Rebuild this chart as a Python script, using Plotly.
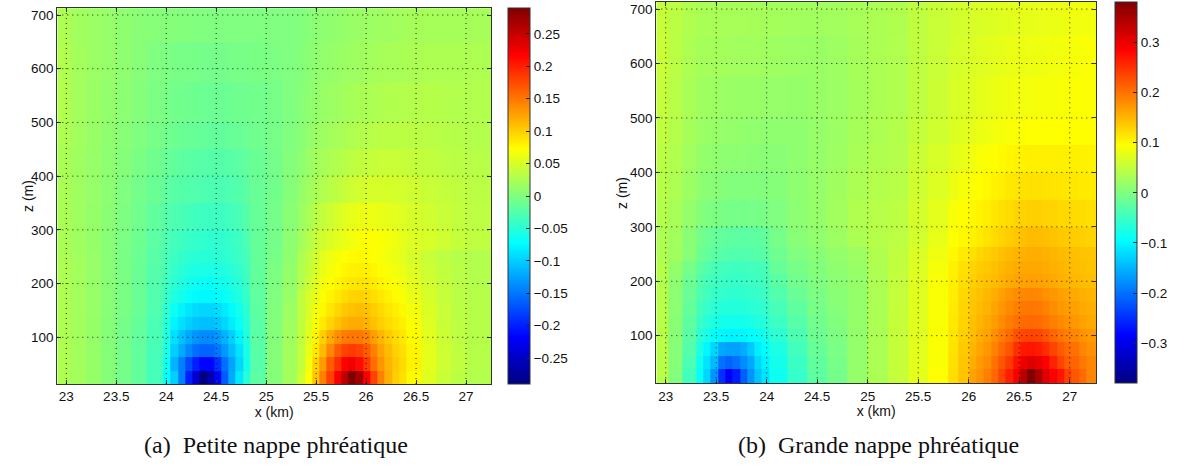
import numpy as np
import plotly.graph_objects as go

# x and z cell edges
x_edges_a = [22.91,23.05,23.2,23.35,23.5,23.65,23.8,23.971,24.044,24.116,24.189,24.261,24.334,24.406,24.479,24.551,24.624,24.696,24.769,24.841,25.0,25.16,25.316,25.389,25.461,25.534,25.606,25.679,25.751,25.824,25.896,25.969,26.041,26.114,26.186,26.259,26.331,26.404,26.55,26.7,26.85,27.0,27.25]
x_edges_b = [22.907,23.03,23.16,23.299,23.371,23.444,23.516,23.589,23.661,23.734,23.806,23.879,23.951,24.024,24.2,24.4,24.6,24.8,25.0,25.2,25.4,25.6,25.8,25.9,26.004,26.076,26.149,26.221,26.294,26.366,26.439,26.511,26.584,26.656,26.729,26.801,26.874,26.946,27.019,27.091,27.164,27.26]
z_edges = [13,38,63,88,113,138,163,188,213,238,263,300,350,400,450,500,575,650,713]

# values in thousandths, bottom row first
values_a = [
[26,20,12,3,-6,-16,-33,-72,-100,-145,-200,-245,-290,-265,-215,-165,-120,-85,-50,-20,3,20,45,72,105,145,180,220,258,290,272,218,180,145,118,100,90,75,55,42,34,30],
[26,20,12,3,-6,-16,-33,-65,-116,-145,-175,-200,-215,-215,-190,-155,-125,-95,-60,-22,3,20,38,65,98,130,165,190,218,225,212,185,155,132,115,102,93,80,58,44,36,31],
[26,20,12,3,-6,-16,-32,-58,-100,-120,-140,-155,-161,-160,-150,-130,-110,-88,-58,-22,3,20,38,60,85,112,140,165,180,185,180,165,145,125,110,98,90,78,58,44,36,31],
[26,20,12,3,-6,-16,-31,-55,-90,-108,-122,-133,-138,-138,-130,-115,-100,-78,-54,-20,3,19,37,56,78,100,120,137,147,150,149,142,127,114,102,93,86,74,56,43,35,31],
[26,20,12,3,-6,-15,-30,-52,-78,-90,-100,-106,-109,-109,-104,-95,-82,-68,-50,-20,2,18,37,54,70,84,97,108,116,120,120,116,108,100,93,87,81,70,54,42,35,31],
[26,20,13,5,-3,-12,-27,-48,-66,-78,-87,-93,-96,-96,-92,-84,-74,-62,-46,-19,1,16,36,52,65,76,86,95,103,108,110,107,101,94,87,81,76,66,52,41,34,31],
[26,20,13,5,-3,-12,-26,-43,-55,-62,-69,-74,-76,-76,-74,-68,-62,-54,-41,-18,0,14,36,50,60,70,78,85,92,97,98,96,91,86,80,75,70,61,49,40,34,31],
[26,20,13,5,-3,-12,-25,-38,-48,-55,-61,-66,-68,-68,-66,-61,-56,-49,-38,-17,-1,12,30,42,55,65,72,78,84,87,88,87,84,79,74,70,65,57,47,39,33,30],
[26,20,13,5,-3,-12,-24,-34,-43,-49,-54,-57,-58,-58,-57,-54,-50,-44,-35,-16,-2,11,28,38,50,60,67,73,77,80,81,80,77,73,69,65,60,53,44,37,32,30],
[25,19,13,5,-3,-11,-22,-32,-38,-43,-47,-49,-50,-50,-49,-47,-44,-39,-32,-15,-4,9,26,35,47,56,63,68,72,75,76,75,72,69,65,61,56,49,41,35,31,29],
[24,18,12,5,-2,-10,-20,-30,-34,-38,-41,-43,-45,-46,-46,-44,-41,-37,-28,-15,-6,7,20,30,40,46,52,57,61,65,69,71,71,70,67,63,58,53,50,45,39,36],
[24,18,12,6,-1,-8,-17,-25,-28,-31,-34,-36,-37,-38,-38,-37,-34,-31,-24,-14,-6,5,16,24,33,39,44,50,55,59,61,62,62,60,58,56,53,50,46,42,38,35],
[24,18,13,7,1,-6,-12,-19,-22,-24,-25,-26,-28,-29,-30,-29,-27,-25,-19,-13,-7,3,12,18,24,28,32,36,40,44,47,48,49,49,49,48,47,45,42,39,36,34],
[24,18,13,8,3,-3,-9,-14,-17,-19,-21,-22,-23,-24,-24,-24,-22,-20,-16,-12,-6,2,8,14,20,23,26,29,32,35,37,39,40,41,41,41,40,39,37,35,33,32],
[26,19,14,9,5,1,-4,-8,-10,-12,-13,-14,-15,-16,-16,-16,-14,-13,-11,-8,-4,1,6,11,15,17,20,23,25,27,29,31,32,33,34,34,34,34,33,32,31,30],
[28,20,15,11,7,3,-2,-5,-7,-8,-9,-10,-11,-11,-11,-11,-10,-9,-9,-7,-4,0,4,8,11,14,16,18,20,22,24,25,26,27,28,29,29,30,31,30,29,29],
[28,20,16,13,9,5,0,-2,-3,-4,-5,-5,-6,-6,-6,-6,-5,-4,-4,-3,-2,0,3,6,9,11,12,14,16,17,18,20,21,22,23,23,24,25,26,26,26,26],
[26,19,16,13,9,6,4,3,3,2,2,1,1,0,0,0,0,0,0,0,0,0,2,4,7,8,9,11,12,14,15,16,17,18,18,19,20,22,22,22,22,22],
]
values_b = [
[42,3,-45,-90,-125,-175,-250,-290,-265,-215,-175,-140,-115,-85,-55,-25,-8,15,33,52,75,95,120,140,165,175,190,208,235,262,290,340,380,345,310,285,270,238,220,205,185],
[42,5,-38,-85,-115,-145,-200,-212,-200,-180,-160,-125,-105,-80,-52,-22,-6,15,33,52,74,92,118,138,155,170,180,200,222,242,272,297,310,300,285,260,235,215,210,195,185],
[43,6,-32,-75,-100,-125,-160,-165,-165,-155,-135,-108,-95,-75,-46,-18,-3,15,33,52,74,92,116,135,150,162,172,188,205,222,250,268,270,265,252,235,218,205,200,185,178],
[42,7,-28,-62,-78,-92,-100,-102,-102,-100,-95,-88,-80,-62,-38,-14,-1,15,33,52,73,92,114,130,145,155,165,178,192,205,225,232,235,232,222,210,198,190,185,175,170],
[42,8,-24,-52,-65,-74,-80,-82,-82,-80,-76,-72,-66,-50,-30,-10,2,15,33,52,73,92,112,128,142,150,158,168,180,192,200,205,206,205,198,190,182,176,172,165,160],
[41,9,-20,-44,-55,-62,-68,-70,-70,-68,-65,-62,-58,-42,-24,-6,5,15,33,51,72,92,110,126,138,146,152,162,172,182,190,195,196,195,188,180,172,168,164,158,155],
[40,10,-17,-38,-47,-54,-58,-60,-60,-60,-57,-54,-50,-35,-17,-3,7,16,33,51,72,92,108,124,135,142,148,156,165,174,180,184,185,184,178,172,166,162,158,153,150],
[39,12,-14,-33,-41,-47,-51,-52,-53,-53,-51,-48,-45,-28,-10,0,10,17,34,50,71,91,106,120,130,136,141,146,152,158,162,165,166,165,162,158,154,150,148,145,143],
[38,16,-6,-25,-34,-41,-45,-47,-48,-48,-46,-44,-41,-18,-6,3,12,18,35,49,70,88,105,118,127,133,137,142,148,153,157,160,160,160,157,154,150,147,145,142,140],
[35,24,6,-13,-20,-26,-30,-33,-34,-34,-33,-30,-28,-12,0,7,15,22,36,48,68,84,100,110,118,125,130,136,142,147,150,153,155,155,153,150,147,144,142,140,138],
[35,26,8,-8,-14,-18,-21,-24,-26,-27,-26,-24,-22,-7,6,13,22,33,40,45,62,78,94,100,105,110,115,121,127,132,137,142,146,145,143,139,136,134,132,130,128],
[38,30,15,4,1,-2,-4,-6,-7,-8,-7,-6,-5,0,10,17,26,37,41,45,64,75,90,96,100,104,108,113,118,122,126,128,130,130,128,126,124,123,122,120,118],
[42,34,21,11,8,6,4,3,2,2,2,2,2,4,11,17,24,33,38,42,60,70,81,88,93,96,100,104,108,112,114,116,117,117,116,115,114,113,112,110,109],
[44,37,25,16,14,13,11,10,9,9,8,8,7,8,12,17,22,31,36,40,57,65,74,80,85,90,93,96,99,102,104,105,106,106,106,106,106,106,106,105,104],
[47,40,29,21,19,18,17,15,15,14,13,13,12,12,12,17,21,29,34,38,52,60,68,73,77,80,83,85,88,90,92,93,94,94,94,95,95,95,96,96,96],
[50,42,31,24,23,22,21,20,20,19,19,18,18,17,16,18,21,28,33,37,48,57,65,69,72,75,78,80,82,84,85,86,87,88,89,89,90,91,92,93,93],
[54,44,34,28,28,27,27,26,26,25,25,25,24,23,21,20,22,29,33,37,47,55,62,66,69,71,73,75,77,79,80,81,82,83,84,85,86,88,89,90,91],
[52,44,36,32,31,31,31,30,30,30,29,29,28,27,26,25,26,30,33,36,47,54,60,63,66,67,69,70,72,73,75,76,77,78,79,80,81,83,84,85,85],
]

x_ticks = [23,23.5,24,24.5,25,25.5,26,26.5,27]
z_ticks = [100,200,300,400,500,600,700]
cbar_ticks_a = [-0.25,-0.2,-0.15,-0.1,-0.05,0,0.05,0.1,0.15,0.2,0.25]
cbar_ticks_b = [-0.3,-0.2,-0.1,0,0.1,0.2,0.3]
limit_a = 0.29
limit_b = 0.38
caption_a = "(a)  Petite nappe phréatique"
caption_b = "(b)  Grande nappe phréatique"

W, H = 1186, 468

JET = [[0.0,"rgb(0,0,128)"],[0.125,"rgb(0,0,255)"],[0.375,"rgb(0,255,255)"],
       [0.625,"rgb(255,255,0)"],[0.875,"rgb(255,0,0)"],[1.0,"rgb(128,0,0)"]]
FONT = "Liberation Sans"

fig = go.Figure()
fig.add_trace(go.Heatmap(x=x_edges_a, y=z_edges, z=np.array(values_a)/1000,
                         coloraxis="coloraxis", xaxis="x", yaxis="y"))
fig.add_trace(go.Heatmap(x=x_edges_b, y=z_edges, z=np.array(values_b)/1000,
                         coloraxis="coloraxis2", xaxis="x2", yaxis="y2"))

def axis(domain, rng, ticks, title, anchor, standoff):
    d = dict(domain=domain, range=rng, tickvals=ticks, ticktext=[f"{t:g}" for t in ticks],
             anchor=anchor, showgrid=False, zeroline=False, showline=True, mirror="ticks",
             linecolor="#333333", linewidth=1, ticks="inside", ticklen=4, tickcolor="#333333",
             tickfont=dict(family=FONT, size=13.5, color="#111111"))
    if title:
        d["title"] = dict(text=title, font=dict(family=FONT, size=14, color="#111111"), standoff=standoff)
    return d

pa = dict(l=57.3, r=491, t=8.3, b=384)
pb = dict(l=656.3, r=1096, t=2, b=383.3)
def dom_x(p): return [p["l"]/W, p["r"]/W]
def dom_y(p): return [1-p["b"]/H, 1-p["t"]/H]

def cbar(ticks, left, top, bottom):
    return dict(x=left/W, xanchor="left", xpad=0, y=1-bottom/H, yanchor="bottom", ypad=0,
                len=(bottom-top)/H, lenmode="fraction", thickness=21.5, thicknessmode="pixels",
                tickvals=ticks, ticktext=[f"{t:g}".replace("-", "\u2212") for t in ticks],
                ticks="inside", ticklen=4, tickcolor="#222222",
                outlinecolor="#333333", outlinewidth=1,
                tickfont=dict(family=FONT, size=13.5, color="#111111"))

fig.update_layout(
    width=W, height=H, margin=dict(l=0, r=0, t=0, b=0),
    paper_bgcolor="white", plot_bgcolor="white", showlegend=False,
    xaxis=axis(dom_x(pa), [22.91, 27.25], x_ticks, "x (km)", "y", 1),
    yaxis=axis(dom_y(pa), [13, 712.5], z_ticks, None, "x", 0),
    xaxis2=axis(dom_x(pb), [22.907, 27.26], x_ticks, "x (km)", "y2", 1),
    yaxis2=axis(dom_y(pb), [12.5, 713], z_ticks, None, "x2", 0),
    coloraxis=dict(colorscale=JET, cmin=-limit_a, cmax=limit_a, colorbar=cbar(cbar_ticks_a, 508.5, 8.3, 384)),
    coloraxis2=dict(colorscale=JET, cmin=-limit_b, cmax=limit_b, colorbar=cbar(cbar_ticks_b, 1114.5, 2, 383.3)),
)

# dotted grid drawn above the cells, from the tick lists
dot = dict(color="rgba(0,0,0,0.85)", width=1, dash="1px,4px")
for xa, ya in (("x", "y"), ("x2", "y2")):
    for t in x_ticks:
        fig.add_shape(type="line", xref=xa, yref=f"{ya} domain", x0=t, x1=t, y0=0, y1=1, line=dot, layer="above")
    for t in z_ticks:
        fig.add_shape(type="line", xref=f"{xa} domain", yref=ya, x0=0, x1=1, y0=t, y1=t, line=dot, layer="above")

for cx, cy in ((28, 196), (622, 193)):
    fig.add_annotation(text="z (m)", xref="paper", yref="paper", x=cx/W, y=1-cy/H, showarrow=False,
                       textangle=-90, xanchor="center", yanchor="middle",
                       font=dict(family=FONT, size=14, color="#111111"))

for text, cx in ((caption_a, 276), (caption_b, 878)):
    fig.add_annotation(text=text, xref="paper", yref="paper", x=cx/W, y=1-445/H, showarrow=False,
                       xanchor="center", yanchor="middle",
                       font=dict(family="Liberation Serif", size=24, color="#111111"))

fig.write_html("out.html", config=dict(displayModeBar=False),
               post_script="document.body.style.margin='0';")
